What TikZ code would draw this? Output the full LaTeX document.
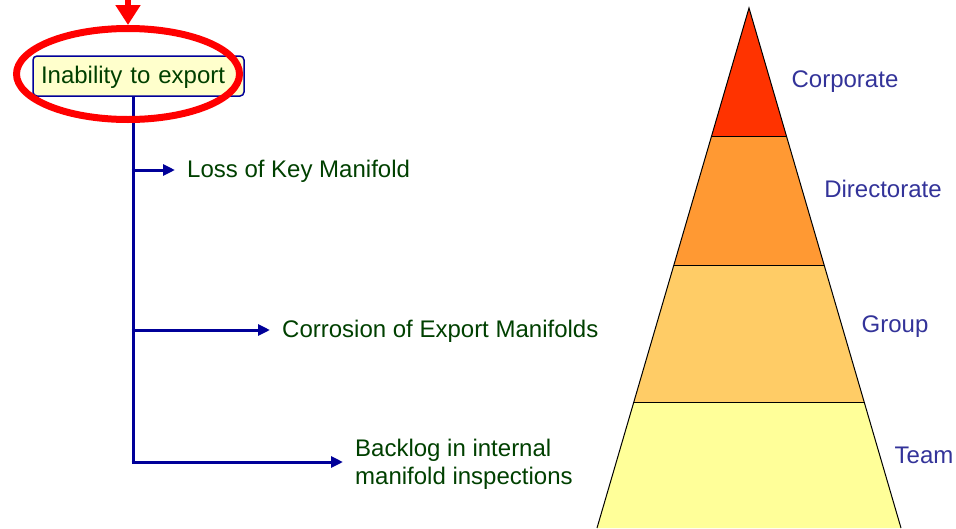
\documentclass[tikz,border=0pt]{standalone}
\usepackage{fontspec}
\setmainfont{Liberation Sans}
\usetikzlibrary{arrows.meta,shapes.geometric}
\definecolor{navy}{HTML}{000099}
\definecolor{dgreen}{HTML}{004000}
\definecolor{lblue}{HTML}{333399}
\definecolor{boxfill}{HTML}{FFFFCC}
\definecolor{bandA}{HTML}{FF3300}
\definecolor{bandB}{HTML}{FF9933}
\definecolor{bandC}{HTML}{FFCC66}
\definecolor{bandD}{HTML}{FFFF99}
\definecolor{ringred}{HTML}{FF0000}
\tikzset{
  txt/.style={font=\fontsize{24}{28}\selectfont, text=dgreen, anchor=west, inner xsep=12pt, inner ysep=0pt, align=left, text height=17.5pt, text depth=3pt},
  lvl/.style={font=\fontsize{24}{28}\selectfont, text=lblue, inner sep=0pt, text height=17.5pt, text depth=3pt},
  trunk/.style={draw=navy, line width=3pt},
  branch/.style={draw=navy, line width=3pt, -{Triangle[length=12pt,width=11pt]}},
  band/.style={draw=black, line width=1pt, line join=miter},
}
\begin{document}
\begin{tikzpicture}[x=1pt,y=-1pt]
\useasboundingbox (0,0) rectangle (956,528);
% pyramid
\fill[bandD] (633.8,402) -- (864.2,402) -- (901,528) -- (597,528) -- cycle;
\fill[bandC] (673.9,265) -- (824.1,265) -- (864.2,402) -- (633.8,402) -- cycle;
\fill[bandB] (711.6,136) -- (786.4,136) -- (824.1,265) -- (673.9,265) -- cycle;
\fill[bandA] (749,8) -- (786.4,136) -- (711.6,136) -- cycle;
\draw[band] (597,528) -- (749,8) -- (901,528);
\draw[band] (711.6,136) -- (786.4,136);
\draw[band] (673.9,265) -- (824.1,265);
\draw[band] (633.8,402) -- (864.2,402);
\node[lvl] (corp) at (845,80) {Corporate};
\node[lvl] (dir) at (883,190) {Directorate};
\node[lvl] (grp) at (895,325) {Group};
\node[lvl] (team) at (924,456) {Team};
% left tree
\node[draw=navy, line width=1.5pt, fill=boxfill, rounded corners=4pt, text width=195pt, align=left, inner xsep=8pt, minimum height=40pt, inner ysep=0pt, text height=17.5pt, text depth=3pt, font=\fontsize{24}{28}\selectfont, text=dgreen] (inab) at (138.5,76) {Inability to export};
\coordinate (t0) at (133,96);
\coordinate (t1) at (133,170);
\coordinate (t2) at (133,330);
\coordinate (t3) at (133,462);
\node[txt] (loss) at (175,170.5) {Loss of Key Manifold};
\node[txt] (corr) at (270,330) {Corrosion of Export Manifolds};
\node[txt, text height=48.4pt, text depth=3pt] (back) at (343,462) {Backlog in internal\\manifold inspections};
\draw[trunk] (inab.south -| t0) -- ([yshift=1.5pt]t3);
\draw[branch] ([xshift=-1.5pt]t1) -- (loss.west |- t1);
\draw[branch] ([xshift=-1.5pt]t2) -- (corr.west);
\draw[branch] ([xshift=-1.5pt]t3) -- (back.west);
% red ring and arrow
\node[ellipse, draw=ringred, line width=7pt, minimum width=223pt, minimum height=91pt, inner sep=0pt] (ring) at (128,74) {};
\coordinate (rtop) at (128,-2);
\draw[ringred, line width=6pt, -{Triangle[length=20pt,width=24pt]}] (rtop) -- (ring.north);
\end{tikzpicture}
\end{document}
